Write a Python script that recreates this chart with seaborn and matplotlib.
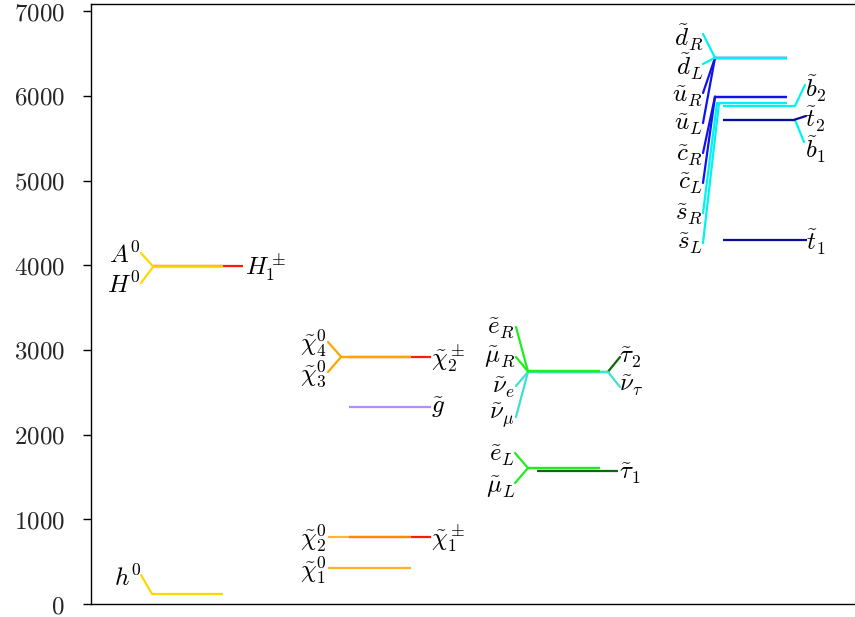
import matplotlib
matplotlib.use('Agg')
import matplotlib.pyplot as plt
import seaborn as sns
import pandas as pd

# ---------------- data (masses in GeV) ----------------
higgs_labels = [r'$h^0$', r'$A^0$', r'$H^0$', r'$H_1^\pm$']
higgs_mass = [118, 3985, 3978, 3990]

gaugino_labels = [r'$\tilde{\chi}^0_1$', r'$\tilde{\chi}^0_2$', r'$\tilde{\chi}^0_3$',
                  r'$\tilde{\chi}^0_4$', r'$\tilde{\chi}^\pm_1$', r'$\tilde{\chi}^\pm_2$',
                  r'$\tilde{g}$']
gaugino_mass = [425, 795, 2916, 2920, 795, 2920, 2330]

slepton_labels = [r'$\tilde{e}_R$', r'$\tilde{\mu}_R$', r'$\tilde{\nu}_e$', r'$\tilde{\nu}_\mu$',
                  r'$\tilde{\tau}_2$', r'$\tilde{\nu}_\tau$', r'$\tilde{e}_L$', r'$\tilde{\mu}_L$',
                  r'$\tilde{\tau}_1$']
slepton_mass = [2745, 2745, 2740, 2740, 2742, 2740, 1605, 1605, 1572]

squark_labels = [r'$\tilde{d}_R$', r'$\tilde{d}_L$', r'$\tilde{u}_R$', r'$\tilde{u}_L$',
                 r'$\tilde{c}_R$', r'$\tilde{c}_L$', r'$\tilde{s}_R$', r'$\tilde{s}_L$',
                 r'$\tilde{b}_2$', r'$\tilde{t}_2$', r'$\tilde{b}_1$', r'$\tilde{t}_1$']
squark_mass = [6450, 6450, 6448, 6448, 5990, 5990, 5915, 5915, 5880, 5720, 5718, 4300]

ytick_values = [0, 1000, 2000, 3000, 4000, 5000, 6000, 7000]
ytick_labels = ['0', '1000', '2000', '3000', '4000', '5000', '6000', '7000']

# ---------------- layout (pixel-based positions) ----------------
X0_PX, Y0_PX, PX_PER_GEV = 91, 604, 0.0847
def X(px):
    return px - X0_PX
def M(py):
    return (Y0_PX - py) / PX_PER_GEV

GOLD, ORANGE, RED, LAV = '#ffd700', '#ffa500', '#ff1a00', '#b68cf2'
LIME, DKGREEN, TURQ = '#1eee1e', '#0b6a0b', '#40e0d0'
CYAN, BLUE, NAVY = '#00f2f2', '#1212ee', '#0b0b95'
FS = 18

# (color, alpha, x0, x1, side, connector-end px, label px)
higgs_layout = [
    (GOLD, 1.0, 152, 223, 'L', (141, 575), (141, 578)),
    (GOLD, 0.85, 153, 223, 'L', (141, 253), (141, 255)),
    (GOLD, 0.85, 153, 223, 'L', (141, 283), (141, 285)),
    (RED, 1.0, 153, 243, None, None, (245, 268)),
]
gaugino_layout = [
    (ORANGE, 0.85, 328, 411, None, None, (327, 571)),
    (ORANGE, 0.8, 328, 411, None, None, (327, 539)),
    (ORANGE, 0.9, 341, 411, 'L', (328, 372), (327, 374)),
    (ORANGE, 0.9, 341, 411, 'L', (328, 342), (327, 344)),
    (RED, 1.0, 349, 431, None, None, (431, 539)),
    (RED, 1.0, 349, 431, None, None, (431, 359)),
    (LAV, 1.0, 349, 431, None, None, (431, 408)),
]
slepton_layout = [
    (LIME, 1.0, 528, 600, 'L', (516, 327), (515, 328)),
    (LIME, 1.0, 528, 600, 'L', (516, 357), (515, 357)),
    (TURQ, 1.0, 528, 600, 'L', (516, 386), (515, 388)),
    (TURQ, 1.0, 528, 600, 'L', (516, 417), (515, 416)),
    (DKGREEN, 1.0, 537, 608, 'R', (620, 357), (619, 358)),
    (TURQ, 1.0, 537, 608, 'R', (620, 387), (619, 386)),
    (LIME, 1.0, 528, 600, 'L', (515, 453), (515, 456)),
    (LIME, 1.0, 528, 600, 'L', (515, 483), (515, 487)),
    (DKGREEN, 1.0, 537, 618, None, None, (619, 474)),
]
squark_layout = [
    (CYAN, 1.0, 715, 787, 'L', (703, 34), (703, 37)),
    (CYAN, 1.0, 715, 787, 'L', (703, 64), (703, 67)),
    (BLUE, 1.0, 715, 787, 'L', (703, 93), (703, 96)),
    (BLUE, 1.0, 715, 787, 'L', (703, 123), (703, 125)),
    (BLUE, 1.0, 715, 787, 'L', (703, 153), (703, 155)),
    (BLUE, 1.0, 715, 787, 'L', (703, 183), (703, 184)),
    (CYAN, 1.0, 717, 787, 'L', (703, 213), (703, 214)),
    (CYAN, 1.0, 719, 787, 'L', (703, 243), (703, 244)),
    (CYAN, 1.0, 723, 795, 'R', (805, 85), (805, 89)),
    (NAVY, 1.0, 723, 795, 'R', (806, 116), (805, 119)),
    (CYAN, 1.0, 723, 795, 'R', (804, 142), (805, 150)),
    (NAVY, 1.0, 723, 807, None, None, (806, 242)),
]

# drawing order - later on top
groups = {
    'higgs': (higgs_labels, higgs_mass, higgs_layout, [3, 0, 2, 1]),
    'gaugino': (gaugino_labels, gaugino_mass, gaugino_layout, [4, 5, 6, 0, 1, 2, 3]),
    'slepton': (slepton_labels, slepton_mass, slepton_layout, [4, 5, 8, 3, 2, 1, 0, 7, 6]),
    'squark': (squark_labels, squark_mass, squark_layout, [11, 10, 9, 8, 7, 6, 5, 4, 3, 2, 1, 0]),
}

# ---------------- plot ----------------
sns.set_theme(style='ticks')
plt.rcParams['mathtext.fontset'] = 'cm'
plt.rcParams['font.family'] = ['DejaVu Serif']

fig = plt.figure(figsize=(8.55, 6.17), dpi=100)
ax = fig.add_axes([X0_PX / 855, 1 - 604 / 617, 1 - X0_PX / 855, 600 / 617])

LW = 1.6
for gname, (labels, masses, layout, order) in groups.items():
    for i in order:
        color, alpha, x0, x1, side, conn, lab = layout[i]
        m = masses[i]
        seg = pd.DataFrame({'x': [X(x0), X(x1)], 'y': [m, m]})
        sns.lineplot(data=seg, x='x', y='y', ax=ax, color=color, alpha=alpha,
                     linewidth=LW, estimator=None, sort=False, solid_capstyle='butt')
        if side == 'L':
            cseg = pd.DataFrame({'x': [X(conn[0]), X(x0)], 'y': [M(conn[1]), m]})
        elif side == 'R':
            cseg = pd.DataFrame({'x': [X(x1), X(conn[0])], 'y': [m, M(conn[1])]})
        else:
            cseg = None
        if cseg is not None:
            sns.lineplot(data=cseg, x='x', y='y', ax=ax, color=color, alpha=1.0,
                         linewidth=LW, estimator=None, sort=False)
    for i, txt in enumerate(labels):
        color, alpha, x0, x1, side, conn, lab = layout[i]
        lx, ly = lab
        ha = 'right' if lx < x0 else 'left'
        ax.text(X(lx), M(ly), txt, ha=ha, va='center', fontsize=FS, color='black')

ax.set_xlim(0, 855 - X0_PX)
ax.set_ylim(0, 600 / PX_PER_GEV)
ax.set_xlabel('')
ax.set_ylabel('')
ax.set_xticks([])
ax.set_yticks(ytick_values)
ax.set_yticklabels(['$' + t + '$' for t in ytick_labels], fontsize=FS)
ax.tick_params(axis='y', direction='out', length=6, width=1, color='black', pad=13)
for s in ['left', 'bottom', 'top']:
    ax.spines[s].set_color('black')
    ax.spines[s].set_linewidth(1.0)
ax.spines['right'].set_visible(False)

fig.savefig('out.png', dpi=100)
